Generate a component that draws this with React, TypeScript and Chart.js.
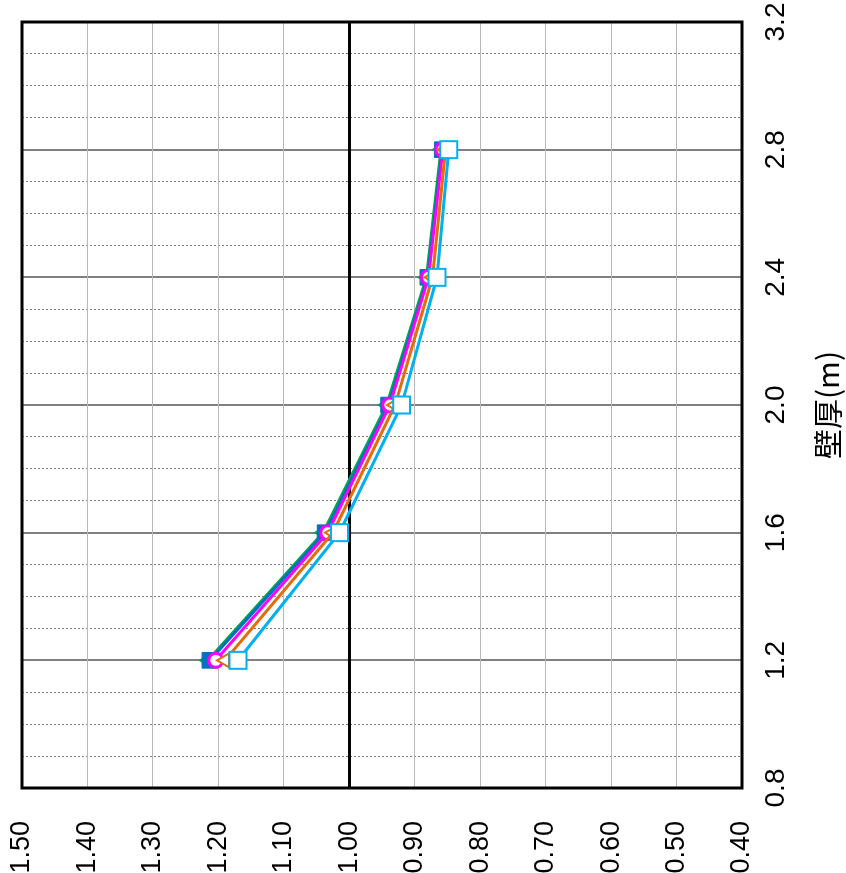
import React, { useEffect, useRef } from "react";
import { Chart, registerables } from "chart.js";

Chart.register(...registerables);

// wall thickness (m)
const thickness = [1.2, 1.6, 2.0, 2.4, 2.8];
// series values (ratio)
const seriesGreen = [1.216, 1.040, 0.943, 0.882, 0.860];
const seriesBlue = [1.213, 1.037, 0.940, 0.880, 0.858];
const seriesMagenta = [1.204, 1.033, 0.938, 0.879, 0.857];
const seriesOrange = [1.190, 1.025, 0.930, 0.873, 0.853];
const seriesCyan = [1.170, 1.015, 0.920, 0.866, 0.848];

const xTitle = "壁厚(m)";
const xMin = 0.8, xMax = 3.2, xMinorStep = 0.1;
const yMin = 0.4, yMax = 1.5, yStep = 0.1;

const CW = 873; // canvas width (before rotation)
const CH = 846; // canvas height

const toPts = (vals: number[]) => thickness.map((t, i) => ({ x: t, y: vals[i] }));

const isMajor = (v: number) => {
  const k = Math.round(v * 10) - 8;
  return ((k % 4) + 4) % 4 === 0;
};

const frame = {
  id: "frame",
  beforeDatasetsDraw(chart: any) {
    const { ctx, chartArea: a } = chart;
    ctx.save();
    ctx.strokeStyle = "#000";
    ctx.lineWidth = 3;
    ctx.strokeRect(a.left, a.top, a.right - a.left, a.bottom - a.top);
    ctx.restore();
  },
};

export default function App() {
  const ref = useRef<HTMLCanvasElement | null>(null);
  useEffect(() => {
    if (!ref.current) return;
    const chart = new Chart(ref.current, {
      type: "scatter",
      data: {
        datasets: [
          {
            data: toPts(seriesCyan),
            showLine: true,
            borderColor: "#00B0F0",
            borderWidth: 3,
            pointStyle: "rect",
            pointRadius: 12,
            pointBorderWidth: 2,
            pointBackgroundColor: "#ffffff",
            pointBorderColor: "#00B0F0",
          },
          {
            data: toPts(seriesOrange),
            showLine: true,
            borderColor: "#E46C0A",
            borderWidth: 3,
            pointStyle: "triangle",
            pointRadius: 8,
            pointBorderWidth: 2,
            pointBackgroundColor: "#ffffff",
            pointBorderColor: "#E46C0A",
          },
          {
            data: toPts(seriesMagenta),
            showLine: true,
            borderColor: "#FF00FF",
            borderWidth: 3,
            pointStyle: "circle",
            pointRadius: 7,
            pointBorderWidth: 3,
            pointBackgroundColor: "#ffffff",
            pointBorderColor: "#FF00FF",
          },
          {
            data: toPts(seriesBlue),
            showLine: true,
            borderColor: "#0070C0",
            borderWidth: 3,
            pointStyle: "rect",
            pointRadius: 11,
            pointBorderWidth: 1,
            pointBackgroundColor: "#0070C0",
            pointBorderColor: "#0070C0",
          },
          {
            data: toPts(seriesGreen),
            showLine: true,
            borderColor: "#00A651",
            borderWidth: 3,
            pointStyle: "triangle",
            pointRadius: 9,
            pointBorderWidth: 1,
            pointBackgroundColor: "#00A651",
            pointBorderColor: "#00A651",
          },
        ],
      },
      options: {
        responsive: false,
        animation: false,
        devicePixelRatio: 1,
        layout: { padding: 0 },
        plugins: { legend: { display: false }, tooltip: { enabled: false }, title: { display: false } },
        scales: {
          x: {
            type: "linear",
            position: "bottom",
            min: xMin,
            max: xMax,
            afterFit: (s: any) => {
              s.height = 104;
              s.paddingLeft = 0;
              s.paddingRight = 22;
            },
            ticks: {
              stepSize: xMinorStep,
              autoSkip: false,
              minRotation: 0,
              maxRotation: 0,
              padding: 17,
              color: "#000",
              font: { family: "'Liberation Sans Narrow', 'Arial Narrow', 'Liberation Sans', sans-serif", size: 28 },
              callback: (v: any) => (isMajor(Number(v)) ? Number(v).toFixed(1) : ""),
            },
            grid: {
              drawTicks: false,
              color: (c: any) => (isMajor(c.tick.value) ? "#808080" : "#7a7a7a"),
              lineWidth: (c: any) => (isMajor(c.tick.value) ? 2 : 1),
            },
            border: {
              display: false,
              dash: (c: any) => (c.tick && isMajor(c.tick.value) ? [] : [2, 2]),
            },
            title: {
              display: true,
              text: xTitle,
              color: "#000",
              padding: { top: 0, bottom: 0 },
              font: { family: "'Noto Sans CJK JP', 'Noto Sans', sans-serif", size: 30 },
            },
          },
          y: {
            type: "linear",
            position: "left",
            min: yMin,
            max: yMax,
            afterFit: (s: any) => {
              s.width = 85;
              s.paddingTop = 22;
              s.paddingBottom = 0;
            },
            ticks: {
              stepSize: yStep,
              padding: 33,
              color: "#000",
              font: { family: "'Liberation Sans', Arial, sans-serif", size: 27 },
              callback: (v: any) => Number(v).toFixed(2),
            },
            grid: {
              drawTicks: false,
              color: (c: any) => (Math.abs(c.tick.value - 1) < 1e-6 ? "#000000" : "#b8b8b8"),
              lineWidth: (c: any) => (Math.abs(c.tick.value - 1) < 1e-6 ? 3 : 1),
            },
            border: { display: false },
          },
        },
      },
      plugins: [frame],
    } as any);
    return () => chart.destroy();
  }, []);

  return (
    <div
      style={{
        position: "fixed",
        left: 0,
        top: 0,
        width: 846,
        height: 873,
        overflow: "hidden",
        background: "#fff",
      }}
    >
      <canvas
        ref={ref}
        width={CW}
        height={CH}
        style={{
          position: "absolute",
          left: 0,
          top: 0,
          width: CW,
          height: CH,
          transformOrigin: "0 0",
          transform: `translateY(${CW}px) rotate(-90deg)`,
        }}
      />
    </div>
  );
}
